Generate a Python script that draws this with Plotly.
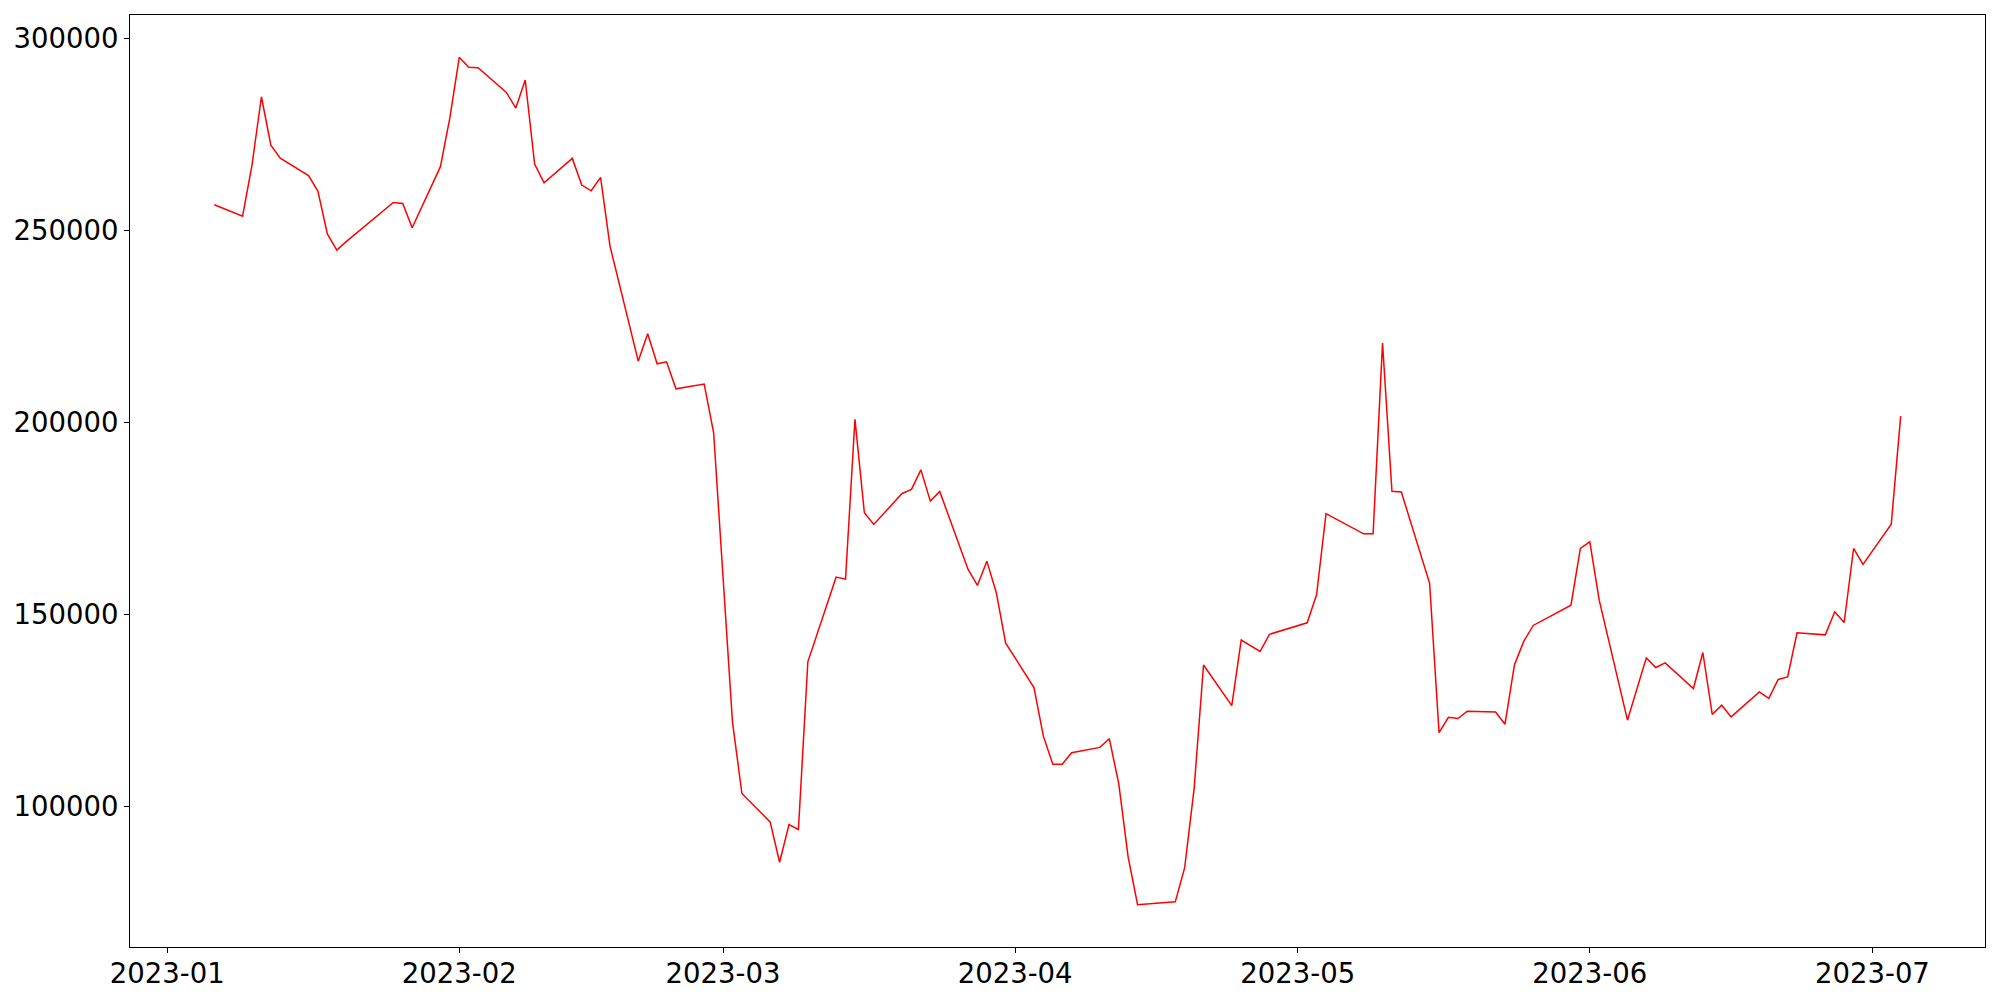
import pandas as pd
import plotly.graph_objects as go

dates = [
    "2023-01-06", "2023-01-09", "2023-01-10", "2023-01-11", "2023-01-12", "2023-01-13",
    "2023-01-16", "2023-01-17", "2023-01-18", "2023-01-19", "2023-01-20",
    "2023-01-25", "2023-01-26", "2023-01-27", "2023-01-30", "2023-01-31",
    "2023-02-01", "2023-02-02", "2023-02-03", "2023-02-06", "2023-02-07", "2023-02-08",
    "2023-02-09", "2023-02-10", "2023-02-13", "2023-02-14", "2023-02-15", "2023-02-16",
    "2023-02-17", "2023-02-20", "2023-02-21", "2023-02-22", "2023-02-23", "2023-02-24",
    "2023-02-27", "2023-02-28",
    "2023-03-02", "2023-03-03", "2023-03-06", "2023-03-07", "2023-03-08", "2023-03-09",
    "2023-03-10", "2023-03-13", "2023-03-14", "2023-03-15", "2023-03-16", "2023-03-17",
    "2023-03-20", "2023-03-21", "2023-03-22", "2023-03-23", "2023-03-24", "2023-03-27",
    "2023-03-28", "2023-03-29", "2023-03-30", "2023-03-31",
    "2023-04-03", "2023-04-04", "2023-04-05", "2023-04-06", "2023-04-07", "2023-04-10",
    "2023-04-11", "2023-04-12", "2023-04-13", "2023-04-14", "2023-04-17", "2023-04-18",
    "2023-04-19", "2023-04-20", "2023-04-21", "2023-04-24", "2023-04-25", "2023-04-26",
    "2023-04-27", "2023-04-28",
    "2023-05-02", "2023-05-03", "2023-05-04", "2023-05-08", "2023-05-09", "2023-05-10",
    "2023-05-11", "2023-05-12", "2023-05-15", "2023-05-16", "2023-05-17", "2023-05-18",
    "2023-05-19", "2023-05-22", "2023-05-23", "2023-05-24", "2023-05-25", "2023-05-26",
    "2023-05-30", "2023-05-31",
    "2023-06-01", "2023-06-02", "2023-06-05", "2023-06-07", "2023-06-08", "2023-06-09",
    "2023-06-12", "2023-06-13", "2023-06-14", "2023-06-15", "2023-06-16", "2023-06-19",
    "2023-06-20", "2023-06-21", "2023-06-22", "2023-06-23", "2023-06-26", "2023-06-27",
    "2023-06-28", "2023-06-29", "2023-06-30",
    "2023-07-03", "2023-07-04",
]

values = [
    256700, 253700, 267000, 284800, 272200, 268800,
    264300, 260200, 249100, 244900, 247100,
    257300, 257050, 250700, 266600, 279300,
    295050, 292450, 292350, 285940, 281860, 289150,
    267280, 262420, 268760, 261820, 260330, 263820,
    245930, 216000, 223110, 215300, 215820, 208790,
    210010, 197340,
    122110, 103470, 96080, 85590, 95400, 94100,
    137730, 159780, 159260, 200830, 176520, 173490,
    181560, 182600, 187700, 179560, 182080, 161860,
    157620, 163940, 155790, 142600,
    131060, 118390, 111080, 111080, 114100, 115470,
    117740, 106050, 86890, 74550, 75100, 75280,
    84160, 104690, 136920, 126330, 143400, 141900,
    140430, 144910,
    147900, 155170, 176310, 171060, 171060, 220680,
    182130, 181920, 158160, 119300, 123310, 123000,
    124900, 124690, 121510, 136950, 143120, 147210,
    152490, 167240,
    168970, 153790, 122560, 138770, 136270, 137470,
    130800, 140170, 124030, 126450, 123420, 129920,
    128210, 133150, 133830, 145280, 144760, 150750,
    147980, 167240, 163080,
    173570, 201690,
]

x_tick_dates = ["2023-01-01", "2023-02-01", "2023-03-01", "2023-04-01",
                "2023-05-01", "2023-06-01", "2023-07-01"]
x_tick_labels = ["2023-01", "2023-02", "2023-03", "2023-04", "2023-05", "2023-06", "2023-07"]
y_tick_vals = [100000, 150000, 200000, 250000, 300000]
y_tick_labels = ["100000", "150000", "200000", "250000", "300000"]

dt = pd.to_datetime(dates)
span_x = dt.max() - dt.min()
x_range = [dt.min() - 0.05 * span_x, dt.max() + 0.05 * span_x]
span_y = max(values) - min(values)
y_range = [min(values) - 0.05 * span_y, max(values) + 0.05 * span_y]

fig = go.Figure()
fig.add_trace(go.Scatter(x=dt, y=values, mode="lines",
                         line=dict(color="#ff0000", width=1.5), showlegend=False))

font = dict(family="DejaVu Sans", size=27.5, color="black")
axis_common = dict(showgrid=False, zeroline=False, showline=True, linecolor="black",
                   linewidth=1.2, mirror=True, ticks="outside", ticklen=5,
                   tickwidth=1.2, tickcolor="black", tickfont=font)

fig.update_xaxes(range=x_range, tickvals=pd.to_datetime(x_tick_dates),
                 ticktext=x_tick_labels, ticklabelstandoff=-3, **axis_common)
fig.update_yaxes(range=y_range, tickvals=y_tick_vals, ticktext=y_tick_labels,
                 **axis_common)

fig.update_layout(width=2000, height=1000, autosize=False,
                  margin=dict(l=130, r=15, t=15, b=53, pad=0),
                  paper_bgcolor="white", plot_bgcolor="white", font=font)

fig.write_html("out.html", config={"displayModeBar": False},
               post_script="document.body.style.margin='0';")
